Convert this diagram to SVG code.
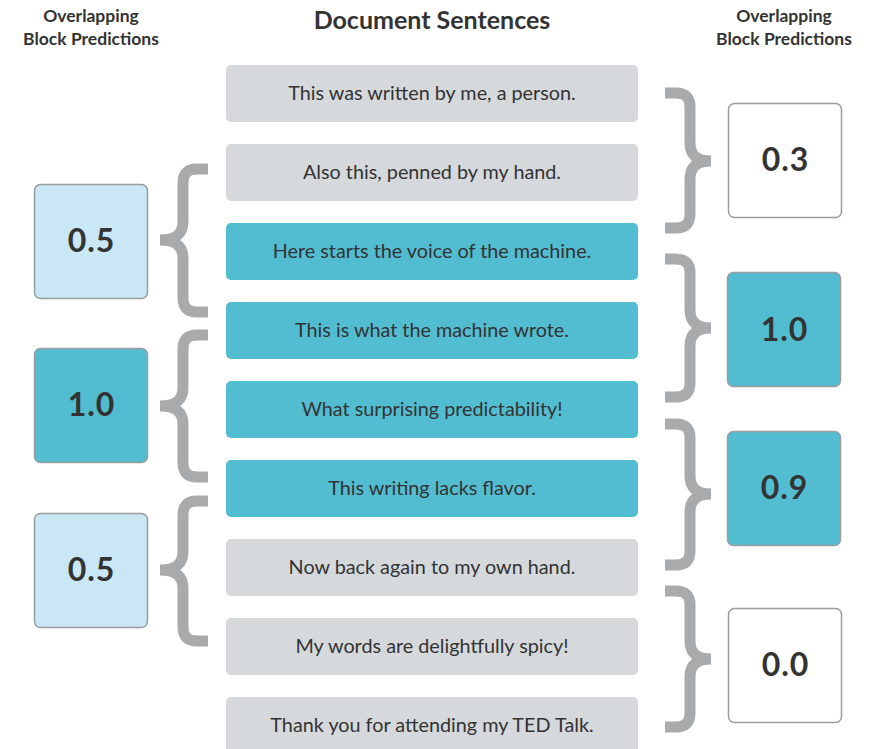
<svg xmlns="http://www.w3.org/2000/svg" width="871" height="749" viewBox="0 0 871 749">
<style>
.hdr{font-family:Lato,"Noto Sans",sans-serif;font-weight:bold;font-size:17.5px;fill:#333;text-anchor:middle}
.title{font-family:Lato,"Noto Sans",sans-serif;font-weight:bold;font-size:25px;fill:#333;text-anchor:middle}
.sent{font-family:Lato,"Noto Sans",sans-serif;font-size:19.8px;fill:#333;text-anchor:middle}
.num{font-family:Lato,"Noto Sans",sans-serif;font-weight:bold;font-size:32px;letter-spacing:1px;fill:#333;text-anchor:middle}
.gray{fill:#d5d9db}
.teal{fill:#52bdd1}
.pbox{stroke:#9a9c9e;stroke-width:1.5}
.white{fill:#fff}
.light{fill:#c9e7f5}
.brace{fill:none;stroke:#a8aaac;stroke-width:11;stroke-linejoin:miter;stroke-miterlimit:10}
</style>
<rect width="871" height="749" fill="#fff"/>
<g id="headers">
<text class="hdr" x="91" y="22">Overlapping</text>
<text class="hdr" x="91" y="45">Block Predictions</text>
<text class="title" x="432" y="29">Document Sentences</text>
<text class="hdr" x="784" y="22">Overlapping</text>
<text class="hdr" x="784" y="45">Block Predictions</text>
</g>
<g id="s1"><rect class="gray" x="226" y="65" width="412" height="57" rx="5"/><text class="sent" x="432" y="100">This was written by me, a person.</text></g>
<g id="s2"><rect class="gray" x="226" y="144" width="412" height="57" rx="5"/><text class="sent" x="432" y="179">Also this, penned by my hand.</text></g>
<g id="s3"><rect class="teal" x="226" y="223" width="412" height="57" rx="5"/><text class="sent" x="432" y="258">Here starts the voice of the machine.</text></g>
<g id="s4"><rect class="teal" x="226" y="302" width="412" height="57" rx="5"/><text class="sent" x="432" y="337">This is what the machine wrote.</text></g>
<g id="s5"><rect class="teal" x="226" y="381" width="412" height="57" rx="5"/><text class="sent" x="432" y="416">What surprising predictability!</text></g>
<g id="s6"><rect class="teal" x="226" y="460" width="412" height="57" rx="5"/><text class="sent" x="432" y="495">This writing lacks flavor.</text></g>
<g id="s7"><rect class="gray" x="226" y="539" width="412" height="57" rx="5"/><text class="sent" x="432" y="574">Now back again to my own hand.</text></g>
<g id="s8"><rect class="gray" x="226" y="618" width="412" height="57" rx="5"/><text class="sent" x="432" y="653">My words are delightfully spicy!</text></g>
<g id="s9"><rect class="gray" x="226" y="697" width="412" height="57" rx="5"/><text class="sent" x="432" y="732">Thank you for attending my TED Talk.</text></g>
<g id="L1"><rect class="pbox light" x="34.5" y="184.5" width="113" height="114" rx="6"/><text class="num" x="91.5" y="252">0.5</text></g>
<g id="L2"><rect class="pbox teal" x="34.5" y="348.5" width="113" height="114" rx="6"/><text class="num" x="91.5" y="416">1.0</text></g>
<g id="L3"><rect class="pbox light" x="34.5" y="513.5" width="113" height="114" rx="6"/><text class="num" x="91.5" y="581">0.5</text></g>
<g id="R1"><rect class="pbox white" x="728.5" y="103.5" width="113" height="114" rx="6"/><text class="num" x="785.5" y="171">0.3</text></g>
<g id="R2"><rect class="pbox teal" x="727.5" y="272.5" width="113" height="114" rx="6"/><text class="num" x="784.5" y="341">1.0</text></g>
<g id="R3"><rect class="pbox teal" x="727.5" y="431.5" width="113" height="114" rx="6"/><text class="num" x="784.5" y="499">0.9</text></g>
<g id="R4"><rect class="pbox white" x="728.5" y="608.5" width="113" height="114" rx="6"/><text class="num" x="785.5" y="676">0.0</text></g>
<g id="connectors">
<path class="brace" d="M665,93 H676 Q690,93 690,107 V143 Q690,161 711,161 Q690,161 690,179 V214 Q690,228 676,228 H665"/>
<path class="brace" d="M665,259 H676 Q690,259 690,273 V310 Q690,328 711,328 Q690,328 690,346 V383 Q690,397 676,397 H665"/>
<path class="brace" d="M665,424 H676 Q690,424 690,438 V476 Q690,494 711,494 Q690,494 690,512 V551 Q690,565 676,565 H665"/>
<path class="brace" d="M665,591 H676 Q690,591 690,605 V641 Q690,659 711,659 Q690,659 690,677 V713 Q690,727 676,727 H665"/>
<path class="brace" d="M208,169 H197 Q183,169 183,183 V222 Q183,240 160,240 Q183,240 183,258 V298 Q183,312 197,312 H208"/>
<path class="brace" d="M208,335 H197 Q183,335 183,349 V388 Q183,406 160,406 Q183,406 183,424 V463 Q183,477 197,477 H208"/>
<path class="brace" d="M208,501 H197 Q183,501 183,515 V552 Q183,570 160,570 Q183,570 183,588 V627 Q183,641 197,641 H208"/>
</g>
</svg>
